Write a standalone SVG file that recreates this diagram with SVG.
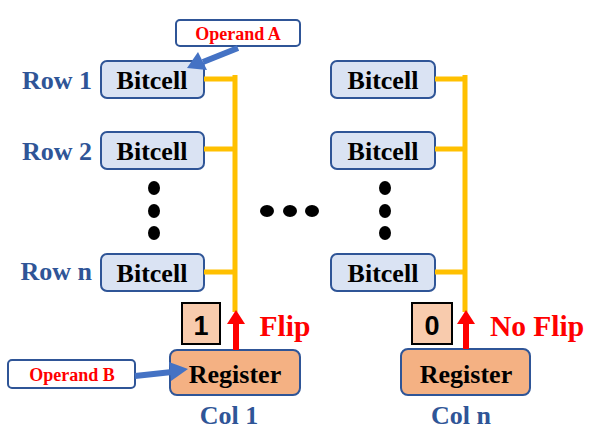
<svg xmlns="http://www.w3.org/2000/svg" width="607" height="448" viewBox="0 0 607 448">
<style>
.cell{fill:#dae3f3;stroke:#2f5597;stroke-width:2}
.reg{fill:#f4b183;stroke:#2f5597;stroke-width:2}
.bit{fill:#f8cbad;stroke:#000;stroke-width:2}
.op{fill:#fff;stroke:#2f5597;stroke-width:2}
.t{font-family:"Liberation Serif",serif;font-weight:bold;text-anchor:middle}
.blk{font-size:26px;fill:#000}
.lbl{font-size:26px;fill:#2f5597}
.red{fill:#ff0000}
.wire{stroke:#ffc000;stroke-width:5;fill:none}
.dot{fill:#000}
.num{font-family:"Liberation Sans",Arial,sans-serif;font-size:27px;font-weight:bold;text-anchor:middle}
</style>
<g id="row-labels">
<text class="lbl" font-family="Liberation Serif,serif" font-weight="bold" text-anchor="end" x="92" y="89">Row 1</text>
<text class="lbl" font-family="Liberation Serif,serif" font-weight="bold" text-anchor="end" x="92" y="160">Row 2</text>
<text class="lbl" font-family="Liberation Serif,serif" font-weight="bold" text-anchor="end" x="92" y="280">Row n</text>
</g>
<g id="cell-1-1"><rect class="cell" x="101" y="61" width="103" height="37" rx="6"/><text class="t blk" x="152" y="89">Bitcell</text></g>
<g id="cell-2-1"><rect class="cell" x="101" y="132" width="103" height="37" rx="6"/><text class="t blk" x="152" y="160">Bitcell</text></g>
<g id="cell-n-1"><rect class="cell" x="101" y="254" width="103" height="37" rx="6"/><text class="t blk" x="152" y="282">Bitcell</text></g>
<g id="cell-1-n"><rect class="cell" x="331" y="61" width="104" height="37" rx="6"/><text class="t blk" x="383" y="89">Bitcell</text></g>
<g id="cell-2-n"><rect class="cell" x="331" y="132" width="104" height="37" rx="6"/><text class="t blk" x="383" y="160">Bitcell</text></g>
<g id="cell-n-n"><rect class="cell" x="331" y="254" width="104" height="37" rx="6"/><text class="t blk" x="383" y="282">Bitcell</text></g>
<g id="dots">
<ellipse class="dot" cx="154" cy="188" rx="6" ry="7"/><ellipse class="dot" cx="154" cy="211" rx="6" ry="7"/><ellipse class="dot" cx="154" cy="233" rx="6" ry="7"/>
<ellipse class="dot" cx="385" cy="188" rx="6" ry="7"/><ellipse class="dot" cx="385" cy="211" rx="6" ry="7"/><ellipse class="dot" cx="385" cy="233" rx="6" ry="7"/>
<ellipse class="dot" cx="267" cy="211" rx="7" ry="6"/><ellipse class="dot" cx="290" cy="211" rx="7" ry="6"/><ellipse class="dot" cx="312" cy="211" rx="7" ry="6"/>
</g>
<g id="bit-1"><rect class="bit" x="182" y="303" width="38" height="41"/><text class="num" x="201" y="335">1</text></g>
<g id="bit-0"><rect class="bit" x="412" y="303" width="40" height="41"/><text class="num" x="432" y="335">0</text></g>
<g id="flip"><text class="t red" x="285" y="336" font-size="29.5">Flip</text></g>
<g id="noflip"><text class="t red" x="537" y="336" font-size="29.5">No Flip</text></g>
<g id="register-1"><rect class="reg" x="170" y="350" width="130" height="45" rx="7"/><text class="t blk" x="235" y="383">Register</text></g>
<g id="register-n"><rect class="reg" x="401" y="349" width="129" height="46" rx="7"/><text class="t blk" x="466" y="383">Register</text></g>
<g id="col-labels">
<text class="t lbl" x="229" y="424">Col 1</text>
<text class="t lbl" x="461" y="424">Col n</text>
</g>
<g id="operand-a"><rect class="op" x="176" y="20" width="124" height="26" rx="4"/><text class="t red" x="238" y="40" font-size="18">Operand A</text></g>
<g id="operand-b"><rect class="op" x="8" y="360" width="127" height="28" rx="4"/><text class="t red" x="72" y="381" font-size="18">Operand B</text></g>
<g id="connectors">
<path class="wire" d="M204,79 H235 M204,149 H235 M204,272 H235 M235,75 V312"/>
<path class="wire" d="M435,79 H465 M435,149 H465 M435,272 H465 M465,75 V312"/>
<path d="M236,350 V322" stroke="#ff0000" stroke-width="6"/>
<path d="M227,324 L236,310 L245,324z" fill="#ff0000"/>
<path d="M466,349 V322" stroke="#ff0000" stroke-width="6"/>
<path d="M457,324 L466,310 L475,324z" fill="#ff0000"/>
<path d="M238,48 L203,62" stroke="#4472c4" stroke-width="6"/>
<path d="M187,68 L198,52 L207,70z" fill="#4472c4"/>
<path d="M135,376 L172,372" stroke="#4472c4" stroke-width="6"/>
<path d="M188,369 L169,362 L171,381z" fill="#4472c4"/>
</g>
</svg>
